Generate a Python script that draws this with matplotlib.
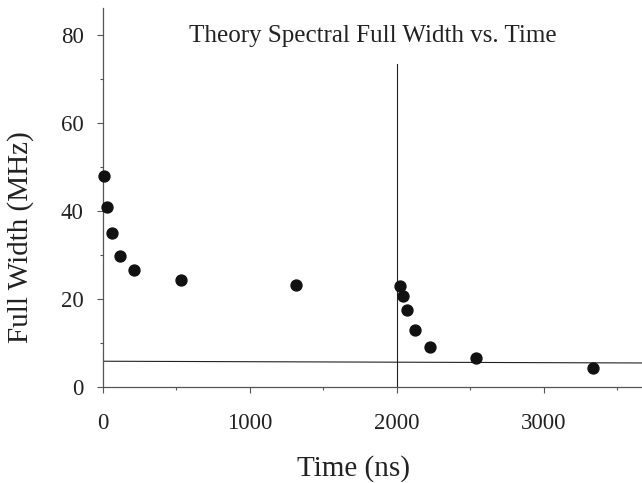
# Theory spectral full width vs. time
import numpy as np
import matplotlib.pyplot as plt
from matplotlib.ticker import MultipleLocator

plt.rcParams["font.family"] = ["Liberation Serif", "DejaVu Serif"]

# ----------------------------------------------------
# Data
# ----------------------------------------------------
time_ns = [5, 30, 60, 115, 210, 530, 1313, 2020, 2040, 2068, 2122, 2225, 2537, 3333]
width_mhz = [48.0, 40.9, 35.0, 29.8, 26.6, 24.4, 23.2, 23.0, 20.6, 17.4, 13.0, 9.1, 6.5, 4.3]

# reference lines
hline_x = [0, 3700]
hline_y = [5.85, 5.45]
vline_x = [2000, 2000]
vline_y = [0, 73.4]

# ----------------------------------------------------
# Plot
# ----------------------------------------------------
fig = plt.figure(figsize=(6.42, 4.83), dpi=100)
ax = fig.add_axes([0.1604, 0.1988, 0.8396, 0.7846])

ax.plot(hline_x, hline_y, color="#222222", lw=0.8, zorder=2)
ax.plot(vline_x, vline_y, color="#222222", lw=0.8, zorder=2)
ax.scatter(time_ns, width_mhz, s=62, color="#111111", zorder=3, clip_on=False)

ax.set_xlim(0, 3667)
ax.set_ylim(0, 86.1)

ax.xaxis.set_major_locator(MultipleLocator(1000))
ax.xaxis.set_minor_locator(MultipleLocator(500))
ax.yaxis.set_major_locator(MultipleLocator(20))
ax.yaxis.set_minor_locator(MultipleLocator(10))

for side in ["top", "right"]:
    ax.spines[side].set_visible(False)
for side in ["left", "bottom"]:
    ax.spines[side].set_color("#555555")
    ax.spines[side].set_linewidth(0.9)

ax.tick_params(which="major", direction="out", length=4, width=0.8,
               color="#555555", labelsize=16.5, labelcolor="#222222")
ax.tick_params(which="minor", direction="out", length=2.5, width=0.8, color="#555555")
ax.tick_params(axis="x", which="major", pad=15)
ax.tick_params(axis="y", which="major", pad=10)

ax.set_xlabel("Time (ns)", fontsize=21, color="#222222")
ax.set_ylabel("Full Width (MHz)", fontsize=21, color="#222222")
ax.xaxis.set_label_coords(0.464, -0.18)
ax.yaxis.set_label_coords(-0.128, 0.396)

ax.text(0.5, 0.926, "Theory Spectral Full Width vs. Time", transform=ax.transAxes,
        ha="center", va="center", fontsize=18, color="#222222")

fig.savefig("out.png", dpi=100)
